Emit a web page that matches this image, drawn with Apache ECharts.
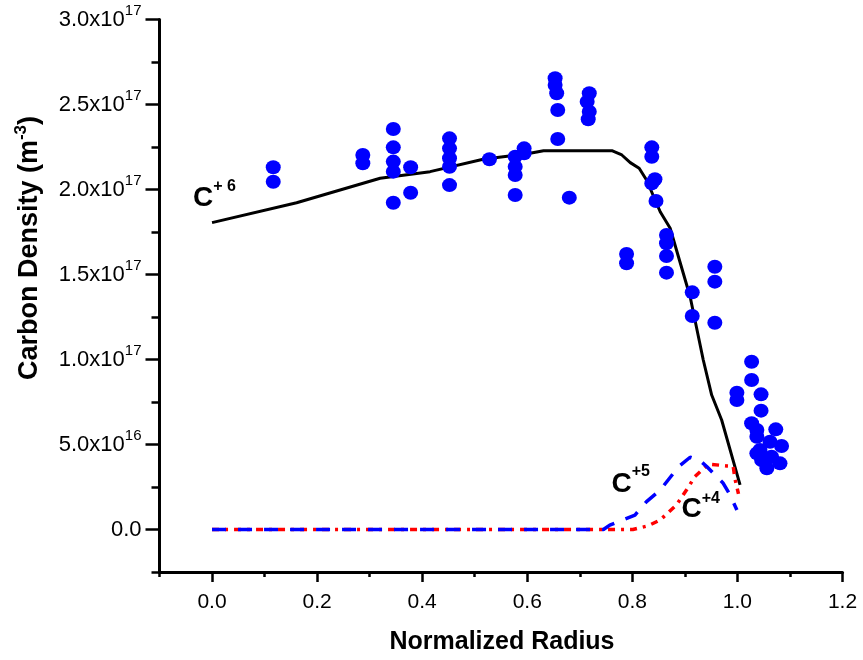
<!DOCTYPE html>
<html>
<head>
<meta charset="utf-8">
<script src="https://cdn.jsdelivr.net/npm/echarts@6/dist/echarts.min.js"></script>
<style>html,body{margin:0;padding:0;background:#fff;}#c{width:863px;height:660px;}</style>
</head>
<body>
<div id="c"></div>
<script>
// ---- data ----
const c6Radius  = [0, 0.161, 0.320, 0.415, 0.516, 0.600, 0.631, 0.761, 0.780, 0.796, 0.813, 0.827, 0.853, 0.872, 0.884, 0.910, 0.935, 0.951, 0.970, 1.005];
const c6Density = [1.805e17, 1.922e17, 2.066e17, 2.105e17, 2.178e17, 2.21e17, 2.228e17, 2.228e17, 2.203e17, 2.158e17, 2.125e17, 2.056e17, 1.869e17, 1.772e17, 1.644e17, 1.369e17, 0.997e17, 0.791e17, 0.644e17, 0.262e17];

const c5Radius  = [0, 0.745, 0.757, 0.805, 0.827, 0.853, 0.888, 0.910, 0.929, 0.942, 0.954, 0.973, 0.986, 0.999];
const c5Density = [0, 0, 0.026e17, 0.085e17, 0.164e17, 0.232e17, 0.369e17, 0.425e17, 0.405e17, 0.369e17, 0.331e17, 0.272e17, 0.203e17, 0.115e17];

const c4Radius  = [0, 0.801, 0.830, 0.853, 0.884, 0.903, 0.919, 0.945, 0.980, 0.992, 0.995, 1.002];
const c4Density = [0, 0, 0.022e17, 0.056e17, 0.144e17, 0.232e17, 0.311e17, 0.385e17, 0.374e17, 0.372e17, 0.303e17, 0.209e17];

const expRadius = [
  0.1165, 0.1165, 0.287, 0.287,
  0.345, 0.345, 0.345, 0.345, 0.345, 0.378, 0.378,
  0.452, 0.452, 0.452, 0.452, 0.452, 0.528,
  0.577, 0.577, 0.577, 0.577, 0.594, 0.594,
  0.653, 0.653, 0.656, 0.658, 0.658, 0.680,
  0.718, 0.714, 0.718, 0.716,
  0.837, 0.837, 0.843, 0.837, 0.845,
  0.789, 0.789, 0.865, 0.865, 0.865, 0.865,
  0.914, 0.914, 0.957, 0.957, 0.957,
  1.027, 1.027, 0.999, 0.999, 1.045, 1.045, 1.027, 1.037, 1.037, 1.073,
  1.043, 1.062, 1.084, 1.037, 1.046, 1.056, 1.081, 1.065
];
const expDensity = [
  2.131e17, 2.046e17, 2.203e17, 2.154e17,
  2.356e17, 2.248e17, 2.164e17, 2.105e17, 1.922e17, 2.131e17, 1.981e17,
  2.301e17, 2.242e17, 2.184e17, 2.134e17, 2.026e17, 2.178e17,
  2.193e17, 2.134e17, 2.085e17, 1.968e17, 2.242e17, 2.213e17,
  2.654e17, 2.615e17, 2.566e17, 2.468e17, 2.297e17, 1.952e17,
  2.566e17, 2.516e17, 2.458e17, 2.413e17,
  2.248e17, 2.193e17, 2.060e17, 2.036e17, 1.932e17,
  1.621e17, 1.566e17, 1.732e17, 1.684e17, 1.609e17, 1.511e17,
  1.395e17, 1.256e17, 1.546e17, 1.458e17, 1.216e17,
  0.987e17, 0.879e17, 0.805e17, 0.762e17, 0.795e17, 0.699e17, 0.625e17, 0.585e17, 0.546e17, 0.589e17,
  0.468e17, 0.516e17, 0.491e17, 0.448e17, 0.409e17, 0.360e17, 0.389e17, 0.428e17
];

const xTickLabels = ['0.0', '0.2', '0.4', '0.6', '0.8', '1.0', '1.2'];
const yTickMantissa = ['0.0', '5.0x10', '1.0x10', '1.5x10', '2.0x10', '2.5x10', '3.0x10'];
const yTickExponent = ['', '16', '17', '17', '17', '17', '17'];

// ---- chart ----
const FONT = 'Liberation Sans, Arial, sans-serif';
const zip = (a, b) => a.map((v, i) => [v, b[i]]);

// geometry of the plot frame (pixels)
const L = 159.5, R = 842.5, T = 19.5, B = 572;
const xMin = -0.1, xMax = 1.2, yMin = -2.5e16, yMax = 3.0e17;
const pxX = (R - L) / (xMax - xMin);
const pxY = (B - T) / (yMax - yMin);
const L1 = L + (0 - xMin) * pxX;   // pixel of radius 0
const B1 = B - (0 - yMin) * pxY;   // pixel of density 0

const chart = echarts.init(document.getElementById('c'), null, {renderer: 'canvas'});
chart.setOption({
  animation: false,
  backgroundColor: '#ffffff',
  grid: [
    {left: L, top: T, width: R - L, height: B - T, containLabel: false},   // data + frame + minor ticks
    {left: L, top: T, width: R - L, height: B1 - T, containLabel: false},  // y labels / major ticks
    {left: L1, top: T, width: R - L1, height: B - T, containLabel: false}  // x labels / major ticks
  ],
  xAxis: [
    {
      gridIndex: 0, type: 'value', min: xMin, max: xMax, interval: 0.1,
      axisLine: {show: true, onZero: false, lineStyle: {color: '#000', width: 3}},
      axisTick: {show: true, length: 5, lineStyle: {color: '#000', width: 2.5}},
      axisLabel: {show: false}, splitLine: {show: false}
    },
    {
      gridIndex: 1, type: 'value', min: xMin, max: xMax, show: false
    },
    {
      gridIndex: 2, type: 'value', min: 0, max: 1.2, interval: 0.2,
      axisLine: {show: false, onZero: false},
      axisTick: {show: true, length: 10, lineStyle: {color: '#000', width: 2.5}},
      axisLabel: {
        show: true, margin: 20, color: '#000', fontSize: 21, fontFamily: FONT,
        formatter: v => xTickLabels[Math.round(v / 0.2)]
      },
      splitLine: {show: false}
    }
  ],
  yAxis: [
    {
      gridIndex: 0, type: 'value', min: yMin, max: yMax, interval: 2.5e16,
      axisLine: {show: true, onZero: false, lineStyle: {color: '#000', width: 3}},
      axisTick: {show: true, length: 8, lineStyle: {color: '#000', width: 2.5}},
      axisLabel: {show: false}, splitLine: {show: false}
    },
    {
      gridIndex: 1, type: 'value', min: 0, max: 3.0e17, interval: 5e16,
      axisLine: {show: false, onZero: false},
      axisTick: {show: true, length: 14, lineStyle: {color: '#000', width: 2.5}},
      axisLabel: {
        show: true, margin: 18, color: '#000', fontFamily: FONT,
        formatter: v => {
          const i = Math.round(v / 5e16);
          return yTickExponent[i] ? '{a|' + yTickMantissa[i] + '}{b|' + yTickExponent[i] + '}' : '{a|' + yTickMantissa[i] + '}';
        },
        rich: {
          a: {fontSize: 22, fontFamily: FONT, color: '#000', lineHeight: 22},
          b: {fontSize: 15, fontFamily: FONT, color: '#000', lineHeight: 15, padding: [0, 0, 17, 0]}
        }
      },
      splitLine: {show: false}
    },
    {
      gridIndex: 2, type: 'value', min: yMin, max: yMax, show: false
    }
  ],
  series: [
    {
      name: 'C+6', type: 'line', xAxisIndex: 0, yAxisIndex: 0, data: zip(c6Radius, c6Density),
      symbol: 'none', smooth: false, z: 2,
      lineStyle: {color: '#000000', width: 3}
    },
    {
      name: 'C+4', type: 'line', xAxisIndex: 0, yAxisIndex: 0, data: zip(c4Radius, c4Density),
      symbol: 'none', z: 3,
      lineStyle: {color: '#ff0000', width: 3.5, type: [7, 6, 3, 6]}
    },
    {
      name: 'C+5', type: 'line', xAxisIndex: 0, yAxisIndex: 0, data: zip(c5Radius, c5Density),
      symbol: 'none', z: 4,
      lineStyle: {color: '#0000ff', width: 3.5, type: [14, 12]}
    },
    {
      name: 'Experiment', type: 'scatter', xAxisIndex: 0, yAxisIndex: 0, data: zip(expRadius, expDensity),
      symbol: 'circle', symbolSize: [15, 14], z: 5,
      itemStyle: {color: '#0000ff', opacity: 1}
    }
  ],
  graphic: [
    {
      type: 'text', x: 502, y: 642, z: 10,
      style: {text: 'Normalized Radius', font: 'bold 25px ' + FONT, fill: '#000', textAlign: 'center', textVerticalAlign: 'middle'}
    },
    {
      type: 'text', x: 30, y: 248, rotation: Math.PI / 2, z: 10,
      style: {
        text: '{a|Carbon Density (m}{b|-3}{a|)}', textAlign: 'center', textVerticalAlign: 'middle',
        rich: {
          a: {font: 'bold 27px ' + FONT, fill: '#000', lineHeight: 27},
          b: {font: 'bold 17px ' + FONT, fill: '#000', lineHeight: 17, padding: [0, 0, 18, 0]}
        }
      }
    },
    {
      type: 'text', x: 193, y: 184, z: 10,
      style: {
        text: '{c|C}{s|+ 6}', textAlign: 'left', textVerticalAlign: 'top',
        rich: {
          c: {font: 'bold 28px ' + FONT, fill: '#000', lineHeight: 28},
          s: {font: 'bold 16px ' + FONT, fill: '#000', lineHeight: 16, padding: [0, 0, 22, 0]}
        }
      }
    },
    {
      type: 'text', x: 611.5, y: 470, z: 10,
      style: {
        text: '{c|C}{s|+5}', textAlign: 'left', textVerticalAlign: 'top',
        rich: {
          c: {font: 'bold 28px ' + FONT, fill: '#000', lineHeight: 28},
          s: {font: 'bold 16px ' + FONT, fill: '#000', lineHeight: 16, padding: [0, 0, 24, 0]}
        }
      }
    },
    {
      type: 'text', x: 681.5, y: 495, z: 10,
      style: {
        text: '{c|C}{s|+4}', textAlign: 'left', textVerticalAlign: 'top',
        rich: {
          c: {font: 'bold 28px ' + FONT, fill: '#000', lineHeight: 28},
          s: {font: 'bold 16px ' + FONT, fill: '#000', lineHeight: 16, padding: [0, 0, 20, 0]}
        }
      }
    }
  ]
});
</script>
</body>
</html>
